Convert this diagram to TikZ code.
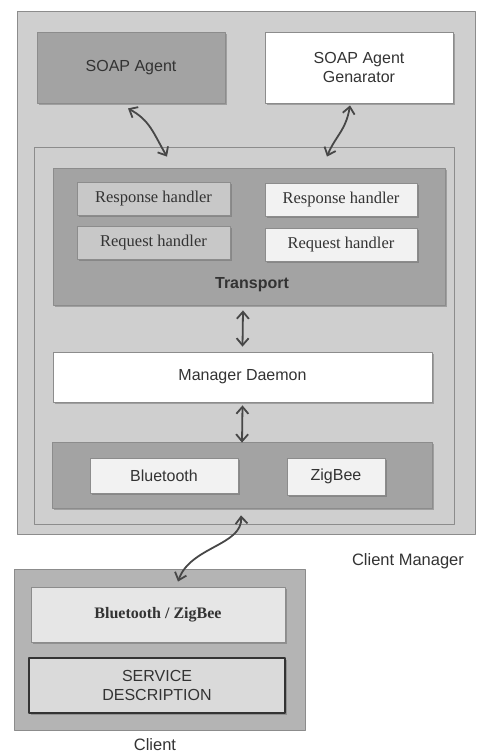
\documentclass[tikz,border=0pt]{standalone}
\usepackage{fontspec}
\setmainfont{Liberation Sans}
\newfontfamily\handfont{Liberation Serif}
\usetikzlibrary{arrows.meta,calc,shadows}
\definecolor{frameGray}{HTML}{CFCFCF}
\definecolor{darkBox}{HTML}{A3A3A3}
\definecolor{midBox}{HTML}{C8C8C8}
\definecolor{paleBox}{HTML}{F2F2F2}
\definecolor{edgeGray}{HTML}{8C8C8C}
\definecolor{inkGray}{HTML}{333333}

\begin{document}
\begin{tikzpicture}[x=1pt, y=-1pt, line cap=round, line join=round]
\tikzset{
  blk/.style={draw=edgeGray, line width=0.8pt, inner sep=0pt, text=inkGray,
    font=\fontsize{16}{19}\selectfont, align=center},
  raised/.style={blk, drop shadow={shadow xshift=1.5pt, shadow yshift=-2pt, opacity=0.45, fill=black!60}},
  hnd/.style={raised, fill=midBox, font=\handfont\fontsize{16.5}{19}\selectfont},
  link/.style={{Straight Barb[length=7pt,width=12pt]}-{Straight Barb[length=7pt,width=12pt]},
    draw=inkGray!90, line width=1.8pt},
  lbl/.style={text=inkGray, font=\fontsize{16.5}{19}\selectfont}
}
\useasboundingbox (0,0) rectangle (480,755);

% client manager frames
\node[blk, fill=frameGray, minimum width=458, minimum height=523] (mgr) at (246,272.5) {};
\node[blk, fill=frameGray, minimum width=420, minimum height=377] (core) at (244,335.5) {};

% SOAP layer
\node[raised, fill=darkBox, minimum width=188, minimum height=71] (agent) at (131,67.5) {SOAP Agent};
\node[raised, fill=white, minimum width=188, minimum height=71] (gen) at (359,67.5) {SOAP Agent\\Genarator};

% transport
\node[raised, fill=darkBox, minimum width=392, minimum height=137] (trans) at (249,236.5) {};
\node[lbl, font=\bfseries\fontsize{16}{19}\selectfont] (transLbl) at (252,285) {Transport};
\node[hnd, minimum width=153, minimum height=33] (resA) at (153.5,198.5) {Response handler};
\node[hnd, minimum width=153, minimum height=33] (reqA) at (153.5,242.5) {Request handler};
\node[hnd, fill=paleBox, minimum width=152, minimum height=33] (resB) at (341,199.5) {Response handler};
\node[hnd, fill=paleBox, minimum width=152, minimum height=33] (reqB) at (341,244.5) {Request handler};

% daemon
\node[raised, fill=white, minimum width=379, minimum height=50] (daemon) at (242.5,377) {Manager Daemon};

% radios
\node[raised, fill=darkBox, minimum width=380, minimum height=66] (radio) at (242,475) {};
\node[raised, fill=paleBox, minimum width=148, minimum height=35] (bt) at (164,475.5) {Bluetooth};
\node[raised, fill=paleBox, minimum width=98, minimum height=37] (zb) at (336,476.5) {ZigBee};

\node[lbl] (mgrLbl) at (408,561) {Client Manager};

% client
\node[blk, fill=midBox!90!black, minimum width=291, minimum height=161] (client) at (159.5,649.5) {};
\node[raised, fill=paleBox!95!black, minimum width=254, minimum height=55,
  font=\handfont\bfseries\fontsize{16}{19}\selectfont] (cradio) at (158,614.5) {Bluetooth / ZigBee};
\node[raised, draw=inkGray, line width=1.6pt, fill=paleBox!90!black, minimum width=256, minimum height=55] (desc) at (157,685.5) {SERVICE\\DESCRIPTION};
\node[lbl] (clientLbl) at (155,745) {Client};

% links
\draw[link] ([xshift=-3pt,yshift=-5pt]agent.south) .. controls +(22,12) and +(-14,-24) .. ([xshift=-82pt,yshift=11pt]trans.north);
\draw[link] ([xshift=-9pt,yshift=-2pt]gen.south) .. controls +(-4,25) and +(8,-20) .. ([xshift=78pt,yshift=11pt]trans.north);
\draw[link] ([xshift=-6pt,yshift=-5pt]trans.south) -- ([yshift=5pt]daemon.north);
\draw[link] ([yshift=-3pt]daemon.south) -- ([yshift=-1pt]radio.north);
\draw[link] ([xshift=-1pt,yshift=-7pt]radio.south) .. controls +(2,30) and +(12,-35) .. ([xshift=18.5pt,yshift=-13pt]client.north);
\end{tikzpicture}
\end{document}
